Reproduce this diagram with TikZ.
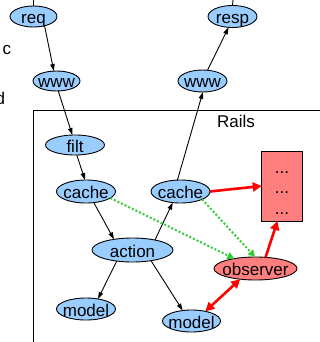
\documentclass[tikz,border=0pt]{standalone}
\usepackage{fontspec}
\setmainfont{Liberation Sans}
\usetikzlibrary{shapes.geometric,arrows.meta}
\definecolor{nodeblue}{HTML}{99CCFF}
\definecolor{nodered}{HTML}{FF7F7F}
\definecolor{dotgreen}{HTML}{33CC33}
\newcommand{\ovaltext}[1]{\raisebox{0pt}[14pt][0pt]{\makebox[0pt]{#1}}}
\begin{document}
\begin{tikzpicture}[x=1pt,y=-1pt,
  every node/.style={font=\fontsize{17}{20}\selectfont, inner sep=0pt, outer sep=0pt},
  bub/.style={ellipse, draw=black, line width=0.9pt, fill=nodeblue},
  redbub/.style={ellipse, draw=black, line width=0.9pt, fill=nodered},
  flow/.style={line width=0.9pt, -{Triangle[length=7pt,width=4.5pt]}},
  hot/.style={draw=red, line width=2.6pt, -{Triangle[length=9pt,width=9pt]}},
  hotboth/.style={draw=red, line width=2.6pt, {Triangle[length=9pt,width=9pt]}-{Triangle[length=9pt,width=9pt]}},
  hint/.style={draw=dotgreen, line width=2pt, dash pattern=on 2pt off 2pt, -{Triangle[length=7pt,width=7pt]}}
]
\useasboundingbox (0,0) rectangle (320,342);
\draw[line width=1pt] (33,110) rectangle (340,360);

\node[anchor=base east] (cutc) at (11,55) {c};
\node[anchor=base east] (cutd) at (5,105) {d};
\node (rails) at (236,121.5) {Rails};

\node[bub, minimum width=47pt, minimum height=21pt] (req) at (33.5,16.5) {\ovaltext{req}};
\node[bub, minimum width=47pt, minimum height=20pt] (wwwL) at (56.5,81) {\ovaltext{www}};
\node[bub, minimum width=49pt, minimum height=22pt] (resp) at (232.5,16.5) {\ovaltext{resp}};
\node[bub, minimum width=49pt, minimum height=22pt] (wwwR) at (202.5,81) {\ovaltext{www}};
\node[bub, minimum width=59pt, minimum height=20pt] (filt) at (75,145) {\ovaltext{filt}};
\node[bub, minimum width=59pt, minimum height=23pt] (cacheL) at (86,191.5) {\ovaltext{cache}};
\node[bub, minimum width=59pt, minimum height=23pt] (cacheR) at (180.5,191.5) {\ovaltext{cache}};
\node[bub, minimum width=81pt, minimum height=24pt] (action) at (132.5,250) {\ovaltext{action}};
\node[bub, minimum width=59pt, minimum height=22pt] (modelL) at (86,309) {\ovaltext{model}};
\node[bub, minimum width=58pt, minimum height=22pt] (modelR) at (191.5,321) {\ovaltext{model}};
\node[redbub, minimum width=83pt, minimum height=23pt] (observer) at (255.5,268.5) {\ovaltext{observer}};
\node[draw=black, line width=0.9pt, fill=nodered, minimum width=40.5pt, minimum height=70pt] (box) at (282,186) {};
\node[anchor=base] (dots1) at (282,173) {...};
\node[anchor=base] (dots2) at (282,193.5) {...};
\node[anchor=base] (dots3) at (282,214) {...};

\coordinate (reqin) at (33.5,0);
\coordinate (respin) at (233,0);
\draw[line width=0.9pt] (reqin) -- (req.north);
\draw[line width=0.9pt] (respin) -- (resp.north);

\draw[flow] (req.-40) -- (wwwL.105);
\draw[flow] (wwwL.-80) -- (filt.105);
\draw[flow] (filt.-80) -- (cacheL.95);
\draw[flow] (cacheL.-55) -- (action.150);
\draw[flow] (action.-145) -- (modelL.40);
\draw[flow] (action.-30) -- (modelR.130);
\draw[flow] (action.24) -- (cacheR.-125);
\draw[flow] (cacheR.105) -- (wwwR.-88);
\draw[flow] (wwwR.65) -- (resp.-110);

\draw[hint] (cacheL.-15) -- (observer.155);
\draw[hint] (cacheR.-20) -- (observer.92);

\draw[hot] (cacheR.east) -- (box.west);
\draw[hot] (observer.48) -- ([xshift=-4.5pt]box.south);
\draw[hotboth] (observer.-145) -- (modelR.35);
\end{tikzpicture}
\end{document}
